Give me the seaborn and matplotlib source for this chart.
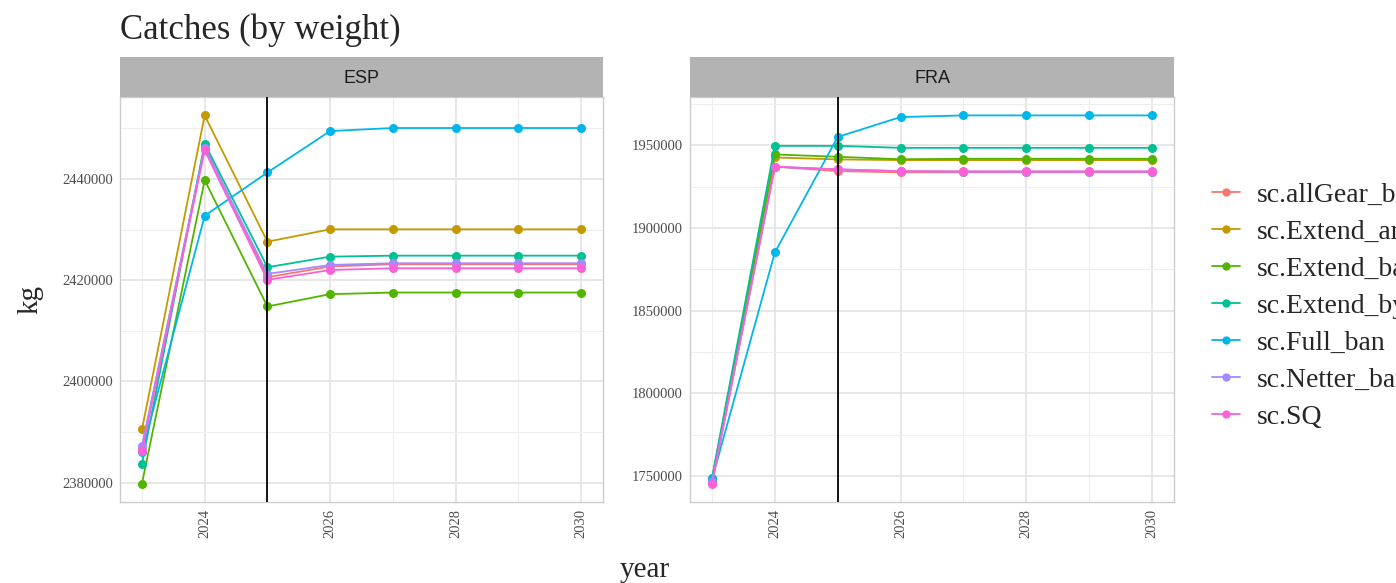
import numpy as np
import pandas as pd
import matplotlib
matplotlib.use("Agg")
import matplotlib.pyplot as plt
from matplotlib.ticker import MultipleLocator
import seaborn as sns

# data
years = [2023, 2024, 2025, 2026, 2027, 2028, 2029, 2030]
scenarios = ["sc.allGear_ban", "sc.Extend_area", "sc.Extend_ban", "sc.Extend_bycatch",
             "sc.Full_ban", "sc.Netter_ban", "sc.SQ"]

esp_allgear = [2386900, 2446450, 2420580, 2422700, 2423140, 2423140, 2423140, 2423140]
esp_ext_a = [2390500, 2452550, 2427600, 2430040, 2430040, 2430040, 2430040, 2430040]
esp_ext_b1 = [2379800, 2439750, 2414800, 2417230, 2417550, 2417550, 2417550, 2417550]
esp_ext_b2 = [2383700, 2446980, 2422550, 2424640, 2424840, 2424840, 2424840, 2424840]
esp_full = [2386000, 2432720, 2441270, 2449460, 2450060, 2450060, 2450060, 2450060]
esp_netter = [2387200, 2446200, 2421230, 2423000, 2423340, 2423340, 2423340, 2423340]
esp_sq = [2386200, 2445660, 2420050, 2422000, 2422350, 2422350, 2422350, 2422350]

fra_allgear = [1745800, 1937000, 1934350, 1933600, 1933600, 1933600, 1933600, 1933600]
fra_ext_a = [1747500, 1942600, 1941400, 1941000, 1941000, 1941000, 1941000, 1941000]
fra_ext_b1 = [1748500, 1944400, 1943000, 1941500, 1941800, 1941800, 1941800, 1941800]
fra_ext_b2 = [1749000, 1949600, 1949600, 1948400, 1948400, 1948400, 1948400, 1948400]
fra_full = [1748000, 1885160, 1955000, 1967000, 1968000, 1968000, 1968000, 1968000]
fra_netter = [1746500, 1937000, 1935400, 1934300, 1934000, 1934000, 1934000, 1934000]
fra_sq = [1745500, 1937000, 1935400, 1934300, 1934200, 1934200, 1934200, 1934200]

esp = [esp_allgear, esp_ext_a, esp_ext_b1, esp_ext_b2, esp_full, esp_netter, esp_sq]
fra = [fra_allgear, fra_ext_a, fra_ext_b1, fra_ext_b2, fra_full, fra_netter, fra_sq]

rows = []
for country, series in [("ESP", esp), ("FRA", fra)]:
    for sc, vals in zip(scenarios, series):
        for y, v in zip(years, vals):
            rows.append((country, sc, y, v))
df = pd.DataFrame(rows, columns=["country", "scenario", "year", "kg"])

palette = ["#F8766D", "#C49A00", "#53B400", "#00C094", "#00B6EB", "#A58AFF", "#FB61D7"]

sns.set_style("white")
plt.rcParams["font.family"] = ["Liberation Serif", "DejaVu Serif"]

fig = plt.figure(figsize=(13.96, 5.83), dpi=100)
W, H = 1396, 583

def add_panel(x0, x1, country, major, minor):
    ax = fig.add_axes([x0 / W, 1 - 502 / H, (x1 - x0) / W, (502 - 97) / H])
    sns.lineplot(data=df[df.country == country], x="year", y="kg", hue="scenario",
                 hue_order=scenarios, palette=palette, marker="o", markersize=6.5,
                 markeredgewidth=0, linewidth=1.3, legend=False, ax=ax)
    ax.axvline(2025, color="black", lw=1.3, zorder=5)
    ax.set_xlim(2022.65, 2030.35)
    ax.margins(y=0.05)
    ax.xaxis.set_major_locator(MultipleLocator(2))
    ax.xaxis.set_minor_locator(MultipleLocator(1))
    ax.yaxis.set_major_locator(MultipleLocator(major))
    ax.yaxis.set_minor_locator(MultipleLocator(minor))
    ax.grid(True, which="major", color="#E3E3E3", lw=1.2)
    ax.grid(True, which="minor", color="#EEEEEE", lw=0.8)
    ax.set_axisbelow(True)
    ax.tick_params(axis="both", which="major", length=3, color="#555555",
                   labelsize=10.5, labelcolor="#4D4D4D", pad=2)
    ax.tick_params(axis="both", which="minor", length=0)
    ax.tick_params(axis="x", labelrotation=90)
    ax.yaxis.set_major_formatter(plt.FuncFormatter(lambda v, p: f"{int(round(v))}"))
    ax.xaxis.set_major_formatter(plt.FuncFormatter(lambda v, p: f"{int(round(v))}"))
    for s in ax.spines.values():
        s.set_color("#CCCCCC")
        s.set_linewidth(1.0)
    ax.set_xlabel("")
    ax.set_ylabel("")
    # facet strip on top
    st = fig.add_axes([x0 / W, 1 - 97 / H, (x1 - x0) / W, 40 / H])
    st.set_facecolor("#B3B3B3")
    st.set_xticks([])
    st.set_yticks([])
    for s in st.spines.values():
        s.set_visible(False)
    st.text(0.5, 0.47, country, ha="center", va="center", fontsize=13,
            color="#1A1A1A", family="Liberation Sans")
    return ax

ax1 = add_panel(120, 603, "ESP", 20000, 10000)
ax2 = add_panel(690, 1174, "FRA", 50000, 25000)

fig.text(120 / W, 1 - 30 / H, "Catches (by weight)", fontsize=25, va="center", ha="left")
fig.text(30 / W, 1 - 300 / H, "kg", fontsize=21, rotation=90, va="center", ha="center")
fig.text(645 / W, 1 - 570 / H, "year", fontsize=21, va="center", ha="center")

handles = [plt.Line2D([], [], color=c, marker="o", markersize=5, lw=1.3) for c in palette]
fig.legend(handles, scenarios, loc="center left", bbox_to_anchor=(1212 / W, 1 - 306 / H),
           frameon=False, fontsize=20, handlelength=1.0, handletextpad=0.6,
           labelspacing=0.42, borderaxespad=0, borderpad=0)

fig.savefig("out.png", dpi=100)
